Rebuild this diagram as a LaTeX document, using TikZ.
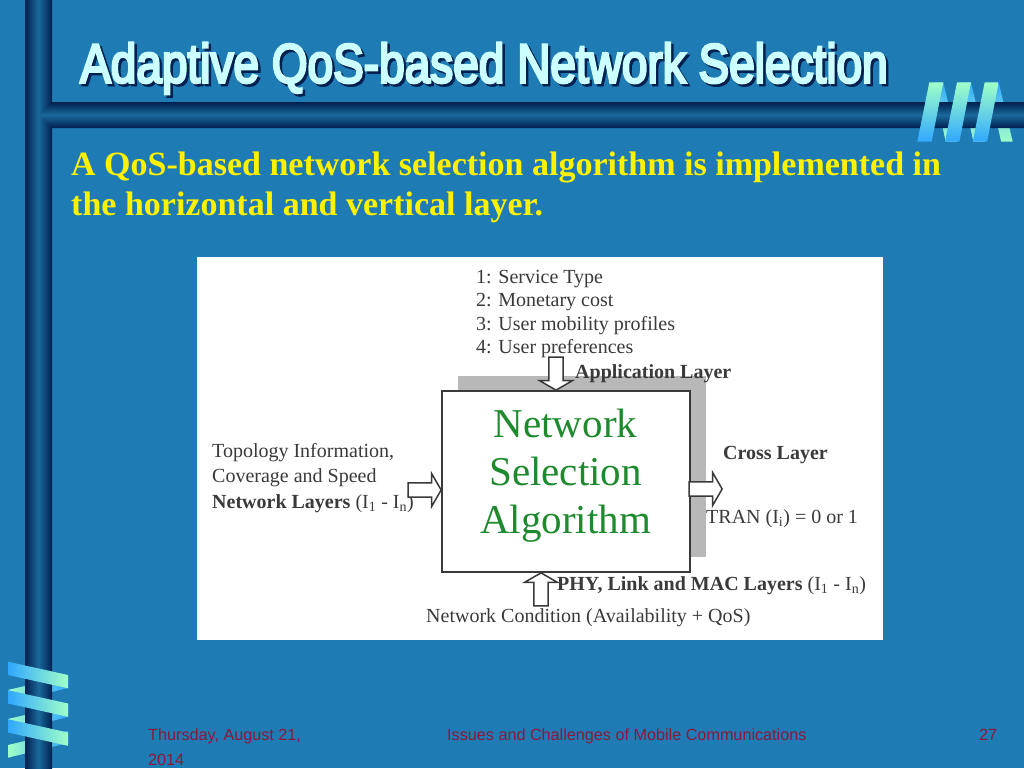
\documentclass[tikz,border=0pt]{standalone}
\usepackage{fontspec}
\setmainfont{Liberation Serif}
\setsansfont{Liberation Sans}
\newfontfamily\titlefont[FakeBold=5]{Liberation Sans}
\usetikzlibrary{shapes.arrows,shadings}
\definecolor{slidebg}{HTML}{1F7BB4}
\definecolor{bardark}{HTML}{00204F}
\definecolor{barlight}{HTML}{1A6A9C}
\definecolor{ribbongreen}{HTML}{A0FFC8}
\definecolor{ribbonblue}{HTML}{30A8FF}
\definecolor{titlecol}{HTML}{CCFFFF}
\definecolor{footcol}{HTML}{8C1A3A}
\definecolor{boxgreen}{HTML}{1E8A2E}
\definecolor{inkcol}{HTML}{3A3A3A}
\tikzset{
	titletext/.style={anchor=base west,inner sep=0,font=\titlefont\fontsize{55}{55}\selectfont,xscale=0.836},
	bodytext/.style={anchor=base west,inner sep=0,text=yellow,font=\bfseries\fontsize{34}{34}\selectfont},
	foottext/.style={anchor=base west,inner sep=0,text=footcol,font=\sffamily\fontsize{16.2}{16.2}\selectfont},
	figtext/.style={anchor=base west,inner sep=0,text=inkcol,font=\fontsize{20}{20}\selectfont},
	figbold/.style={figtext,font=\bfseries\fontsize{20}{20}\selectfont},
	algotext/.style={anchor=base,inner sep=0,text=boxgreen,font=\fontsize{41}{41}\selectfont},
	blockarrow/.style={single arrow,draw=inkcol,line width=1.5pt,fill=white,inner sep=0,
		single arrow head extend=1pt,single arrow tip angle=120,minimum width=33pt,minimum height=33pt,anchor=tip},
}
\begin{document}
\begin{tikzpicture}[x=1pt,y=-1pt]
\useasboundingbox (0,0) rectangle (1024,768);
\fill[slidebg] (0,0) rectangle (1024,768);
% ribbons behind the bars
\foreach \dx in {0,27.7,55.4} {
	\shade[top color=ribbonblue,bottom color=ribbongreen]
		(932.7+\dx,82.3) -- (943.3+\dx,82.3) -- (957.3+\dx,141.7) -- (945.7+\dx,141.7) -- cycle;
}
\foreach \dy in {0,29,55} {
	\shade[left color=ribbongreen,right color=ribbonblue]
		(8,690+\dy) -- (68,675.7+\dy) -- (68,688+\dy) -- (8,702.7+\dy) -- cycle;
}
% bars
\shade[left color=bardark,right color=bardark,middle color=barlight] (25,0) rectangle (52,768);
\shade[top color=bardark,bottom color=bardark,middle color=barlight]
	(40,115) -- (52,102) -- (1024,102) -- (1024,128) -- (52,128) -- cycle;
% ribbons in front
\foreach \dx in {0,27.7,55.4} {
	\shade[top color=ribbongreen,bottom color=ribbonblue]
		(929.3+\dx,82.3) -- (943.3+\dx,82.3) -- (931.7+\dx,141.7) -- (917.3+\dx,141.7) -- cycle;
}
\foreach \dy in {0,28.5,57.5} {
	\shade[left color=ribbonblue,right color=ribbongreen]
		(8,661.7+\dy) -- (68,675+\dy) -- (68,688.3+\dy) -- (8,675+\dy) -- cycle;
}
% title and text
\node[titletext,text=bardark] (titleshade) at (82.5,85) {Adaptive QoS-based Network Selection};
\node[titletext,text=titlecol] (title) at (80,82.5) {Adaptive QoS-based Network Selection};
\node[bodytext] (bodyone) at (71,175) {A QoS-based network selection algorithm is implemented in};
\node[bodytext] (bodytwo) at (71,215) {the horizontal and vertical layer.};
% figure
\fill[white] (197,257) rectangle (883,640);
\fill[black!28] (458,376) rectangle (706,557);
\node[draw=inkcol,line width=2pt,fill=white,minimum width=248pt,minimum height=181pt,inner sep=0] (algobox) at (566,481.5) {};
\node[algotext] (algoone) at (565.5,437) {Network};
\node[algotext] (algotwo) at (565.5,485) {Selection};
\node[algotext] (algothree) at (565.5,533) {Algorithm};
\node[figtext] (listone) at (476,283) {1: Service Type};
\node[figtext] (listtwo) at (476,306) {2: Monetary cost};
\node[figtext] (listthree) at (476,330) {3: User mobility profiles};
\node[figtext] (listfour) at (476,353) {4: User preferences};
\node[figbold] (applayer) at (575,378) {Application Layer};
\node[figtext] (topoone) at (212,457) {Topology Information,};
\node[figtext] (topotwo) at (212,482) {Coverage and Speed};
\node[figtext] (netlayers) at (212,508) {\textbf{Network Layers} (I\textsubscript{1} - I\textsubscript{n})};
\node[figbold] (crosslayer) at (723,459) {Cross Layer};
\node[figtext] (tran) at (706,523) {TRAN (I\textsubscript{i}) = 0 or 1};
\node[figtext] (phy) at (557,590) {\textbf{PHY, Link and MAC Layers} (I\textsubscript{1} - I\textsubscript{n})};
\node[figtext] (netcond) at (426,622) {Network Condition (Availability + QoS)};
\node[blockarrow,shape border rotate=270] (apparrow) at (556,391) {};
\node[blockarrow] (leftarrow) at (442,490) {};
\node[blockarrow] (rightarrow) at (723,489) {};
\node[blockarrow,shape border rotate=90] (uparrow) at (541,572) {};
% footer
\node[foottext] (footdate) at (148,740) {Thursday, August 21,};
\node[foottext] (footyear) at (148,765) {2014};
\node[foottext] (footname) at (447,740) {Issues and Challenges of Mobile Communications};
\node[foottext] (footpage) at (979,740) {27};
\end{tikzpicture}
\end{document}
